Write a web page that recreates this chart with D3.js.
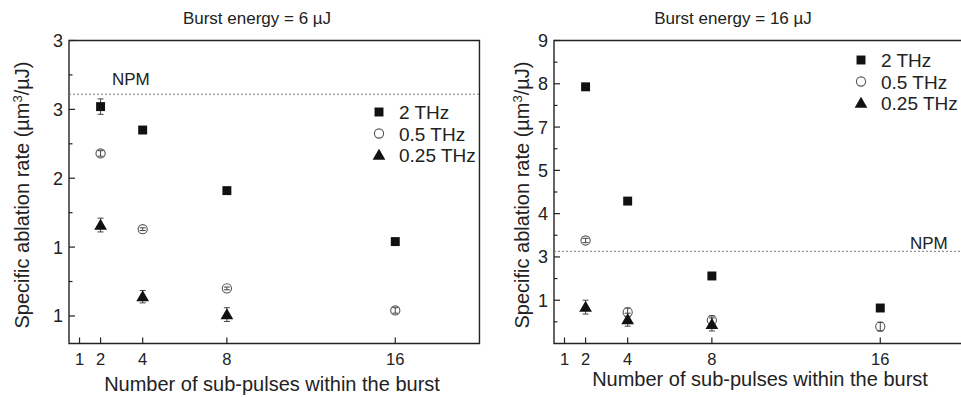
<!DOCTYPE html>
<html>
<head>
<meta charset="utf-8">
<script src="https://cdn.jsdelivr.net/npm/d3@7"></script>
<style>
  body { margin: 0; background: #fff; }
  svg { display: block; font-family: "Liberation Sans", Arial, sans-serif; }
</style>
</head>
<body>
<div id="chart"></div>
<script>
// x axis: number of sub-pulses
const xTicks = [1, 2, 4, 8, 16];
const pulses = [2, 4, 8, 16];
const seriesNames = ["2 THz", "0.5 THz", "0.25 THz"];

// Burst energy = 6 uJ
const e6_2THz = [2.52, 2.35, 1.91, 1.54];
const e6_2THzErr = [0.056, 0.01, 0.01, 0.01];
const e6_05THz = [2.18, 1.63, 1.20, 1.04];
const e6_05THzErr = [0.02, 0.01, 0.01, 0.02];
const e6_025THz = [1.66, 1.14, 1.01];
const e6_025THzErr = [0.05, 0.045, 0.05];
const npm6 = 2.61;
const yTicks6 = [1.0, 1.5, 2.0, 2.5, 3.0];
const yLabels6 = ["1", "1", "2", "3", "3"];

// Burst energy = 16 uJ
const e16_2THz = [7.93, 5.29, 3.56, 2.82];
const e16_2THzErr = [0.05, 0.05, 0.05, 0.05];
const e16_05THz = [4.38, 2.72, 2.54, 2.39];
const e16_05THzErr = [0.05, 0.1, 0.1, 0.1];
const e16_025THz = [2.84, 2.55, 2.44];
const e16_025THzErr = [0.16, 0.15, 0.15];
const npm16 = 4.13;
const yTicks16 = [3, 4, 5, 6, 7, 8, 9];
const yLabels16 = ["1", "3", "4", "5", "7", "8", "9"];

const W = 961, H = 397;
const svg = d3.select("#chart").append("svg")
    .attr("width", W)
    .attr("height", H);

const ink = "#222";

function drawPanel({ left, yDomain, yTicks, yLabels, s2, s2e, s05, s05e, s025, s025e, npm, title, legendX, legendY, npmX, npmY, titleX, xTitleX, xTitleY, yTitleX }) {
    const top = 40.5, bottom = 343.5;
    const x = d3.scaleLinear().domain([0.5, 20]).range([left, left + 19.5 * 21.05]);
    const y = d3.scaleLinear().domain(yDomain).range([bottom, top]);
    const g = svg.append("g");

    // frame
    const x0 = x(0.5), x1 = x(20);
    g.append("path")
        .attr("d", `M${x0},${top}H${x1}V${bottom}H${x0}Z`)
        .attr("fill", "none")
        .attr("stroke", ink)
        .attr("stroke-width", 1.4);

    // y ticks (inward) + minor ticks
    const step = yTicks[1] - yTicks[0];
    const minor = d3.range(yTicks[0] - step / 2, yDomain[1], step).filter(v => v > yDomain[0] && v < yDomain[1]);
    g.selectAll(".ymaj").data(yTicks).enter().append("line")
        .attr("x1", x0).attr("x2", x0 + 6)
        .attr("y1", d => y(d)).attr("y2", d => y(d))
        .attr("stroke", ink).attr("stroke-width", 1.2);
    g.selectAll(".ymin").data(minor).enter().append("line")
        .attr("x1", x0).attr("x2", x0 + 3.5)
        .attr("y1", d => y(d)).attr("y2", d => y(d))
        .attr("stroke", ink).attr("stroke-width", 1.2);
    g.selectAll(".ylab").data(yTicks).enter().append("text")
        .attr("x", x0 - 6)
        .attr("y", d => y(d) + 6.5)
        .attr("text-anchor", "end")
        .attr("font-size", "18px")
        .attr("fill", ink)
        .text((d, i) => yLabels[i]);

    // x ticks
    g.selectAll(".xt").data(xTicks).enter().append("line")
        .attr("x1", d => x(d)).attr("x2", d => x(d))
        .attr("y1", bottom).attr("y2", bottom - 6)
        .attr("stroke", ink).attr("stroke-width", 1.2);
    g.selectAll(".xlab").data(xTicks).enter().append("text")
        .attr("x", d => x(d))
        .attr("y", 365)
        .attr("text-anchor", "middle")
        .attr("font-size", "16.5px")
        .attr("fill", ink)
        .text(d => d);

    // NPM line
    g.append("line")
        .attr("x1", x0).attr("x2", x1)
        .attr("y1", y(npm)).attr("y2", y(npm))
        .attr("stroke", "#777")
        .attr("stroke-width", 1)
        .attr("stroke-dasharray", "2,2");
    g.append("text")
        .attr("x", npmX).attr("y", npmY)
        .attr("font-size", "17px")
        .attr("fill", ink)
        .text("NPM");

    // titles
    g.append("text")
        .attr("x", titleX).attr("y", 24)
        .attr("text-anchor", "middle")
        .attr("font-size", "17px")
        .attr("fill", ink)
        .text(title);
    g.append("text")
        .attr("x", xTitleX).attr("y", xTitleY)
        .attr("text-anchor", "middle")
        .attr("font-size", "20px")
        .attr("fill", ink)
        .text("Number of sub-pulses within the burst");
    const yt = g.append("text")
        .attr("transform", `translate(${yTitleX},195) rotate(-90)`)
        .attr("text-anchor", "middle")
        .attr("font-size", "20px")
        .attr("fill", ink);
    yt.append("tspan").text("Specific ablation rate (\u00b5m");
    yt.append("tspan").attr("dy", -7).attr("font-size", "13px").text("3");
    yt.append("tspan").attr("dy", 7).text("/\u00b5J)");

    // error bars
    function errBars(vals, errs) {
        const d = vals.map((v, i) => ({ px: pulses[i], v, e: errs[i] }));
        const eg = g.append("g").attr("stroke", "#444").attr("stroke-width", 1);
        eg.selectAll(".ev").data(d).enter().append("line")
            .attr("x1", p => x(p.px)).attr("x2", p => x(p.px))
            .attr("y1", p => y(p.v - p.e)).attr("y2", p => y(p.v + p.e));
        eg.selectAll(".ec1").data(d).enter().append("line")
            .attr("x1", p => x(p.px) - 3).attr("x2", p => x(p.px) + 3)
            .attr("y1", p => y(p.v - p.e)).attr("y2", p => y(p.v - p.e));
        eg.selectAll(".ec2").data(d).enter().append("line")
            .attr("x1", p => x(p.px) - 3).attr("x2", p => x(p.px) + 3)
            .attr("y1", p => y(p.v + p.e)).attr("y2", p => y(p.v + p.e));
    }

    const sq = d3.symbol().type(d3.symbolSquare).size(80);
    const tri = d3.symbol().type(d3.symbolTriangle).size(70);

    // 0.5 THz circles (error bars drawn over the hollow circle)
    g.selectAll(".c").data(s05).enter().append("circle")
        .attr("cx", (d, i) => x(pulses[i]))
        .attr("cy", d => y(d))
        .attr("r", 4.6)
        .attr("fill", "#fff")
        .attr("stroke", "#555")
        .attr("stroke-width", 1.1);
    errBars(s05, s05e);

    errBars(s2, s2e);
    g.selectAll(".s").data(s2).enter().append("path")
        .attr("d", sq)
        .attr("transform", (d, i) => `translate(${x(pulses[i])},${y(d)})`)
        .attr("fill", "#111");

    errBars(s025, s025e);
    g.selectAll(".t").data(s025).enter().append("path")
        .attr("d", tri)
        .attr("transform", (d, i) => `translate(${x(pulses[i])},${y(d) + 1})`)
        .attr("fill", "#111");

    // legend
    const lg = g.append("g");
    seriesNames.forEach((name, i) => {
        const ly = legendY + i * 21.5;
        if (i === 0) {
            lg.append("path").attr("d", sq).attr("transform", `translate(${legendX},${ly})`).attr("fill", "#111");
        } else if (i === 1) {
            lg.append("circle").attr("cx", legendX).attr("cy", ly).attr("r", 4.6)
                .attr("fill", "#fff").attr("stroke", "#555").attr("stroke-width", 1.1);
        } else {
            lg.append("path").attr("d", tri).attr("transform", `translate(${legendX},${ly + 1})`).attr("fill", "#111");
        }
        lg.append("text")
            .attr("x", legendX + 20)
            .attr("y", ly + 7)
            .attr("font-size", "19px")
            .attr("fill", ink)
            .text(name);
    });
}

drawPanel({
    left: 69, yDomain: [0.8, 3.0], yTicks: yTicks6, yLabels: yLabels6,
    s2: e6_2THz, s2e: e6_2THzErr, s05: e6_05THz, s05e: e6_05THzErr, s025: e6_025THz, s025e: e6_025THzErr,
    npm: npm6, title: "Burst energy = 6 \u00b5J",
    legendX: 379, legendY: 112, npmX: 112, npmY: 85, titleX: 257,
    xTitleX: 272, xTitleY: 391, yTitleX: 29
});

drawPanel({
    left: 554, yDomain: [2, 9], yTicks: yTicks16, yLabels: yLabels16,
    s2: e16_2THz, s2e: e16_2THzErr, s05: e16_05THz, s05e: e16_05THzErr, s025: e16_025THz, s025e: e16_025THzErr,
    npm: npm16, title: "Burst energy = 16 \u00b5J",
    legendX: 861, legendY: 60, npmX: 910, npmY: 249, titleX: 733,
    xTitleX: 760, xTitleY: 386, yTitleX: 529
});
</script>
</body>
</html>
